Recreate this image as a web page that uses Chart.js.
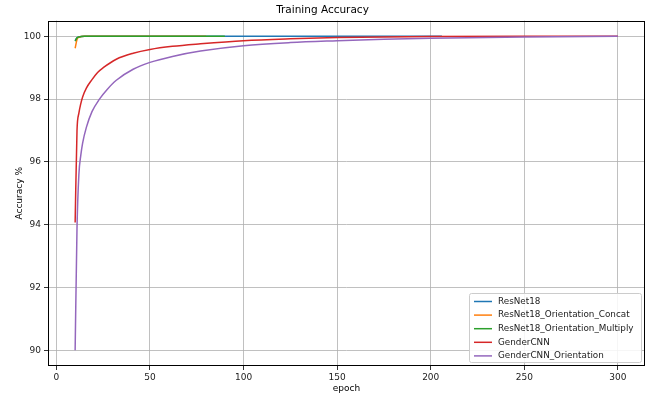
<!DOCTYPE html>
<html>
<head>
<meta charset="utf-8">
<script src="https://cdn.jsdelivr.net/npm/chart.js@4/dist/chart.umd.min.js"></script>
<style>
  html, body { margin: 0; padding: 0; background: #fff; }
  #wrap { width: 647px; height: 396px; }
</style>
</head>
<body>
<div id="wrap"><canvas id="accChart" width="647" height="396"></canvas></div>
<script>
    // Data
    const seriesNames = ['ResNet18', 'ResNet18_Orientation_Concat', 'ResNet18_Orientation_Multiply', 'GenderCNN', 'GenderCNN_Orientation'];
    const seriesColors = ['#1f77b4', '#ff7f0e', '#2ca02c', '#d62728', '#9467bd'];

    const resnetEpochs = [10, 11, 12, 15, 206];
    const resnetAcc = [99.86, 99.95, 99.98, 100, 100];

    const concatEpochs = [10, 11, 12, 15, 80];
    const concatAcc = [99.62, 99.9, 99.97, 100, 100];

    const multiplyEpochs = [10, 11, 12, 15, 90];
    const multiplyAcc = [99.85, 99.95, 99.98, 100, 100];

    const genderEpochs = [10, 11, 12, 13, 14, 16, 19, 22, 25, 32, 41, 50, 62, 77, 100, 125, 150, 175, 200, 250, 300];
    const genderAcc = [94.07, 97.0, 97.55, 97.85, 98.07, 98.35, 98.62, 98.85, 99.0, 99.27, 99.46, 99.58, 99.68, 99.76, 99.86, 99.92, 99.96, 99.98, 99.99, 100, 100];

    const genderOriEpochs = [10, 11, 12, 13, 14, 16, 19, 23, 27, 32, 41, 50, 62, 77, 100, 125, 150, 175, 200, 250, 300];
    const genderOriAcc = [90.0, 93.9, 95.6, 96.2, 96.6, 97.1, 97.6, 98.0, 98.3, 98.6, 98.95, 99.17, 99.36, 99.53, 99.70, 99.80, 99.86, 99.91, 99.94, 99.98, 100];

    const xTicks = [0, 50, 100, 150, 200, 250, 300];
    const yTicks = [90, 92, 94, 96, 98, 100];

    const allEpochs = [resnetEpochs, concatEpochs, multiplyEpochs, genderEpochs, genderOriEpochs];
    const allAcc = [resnetAcc, concatAcc, multiplyAcc, genderAcc, genderOriAcc];

    const FONT = '"DejaVu Sans", sans-serif';

    // later series drawn on top, like matplotlib
    const datasets = seriesNames.map((name, i) => ({
      label: name,
      data: allEpochs[i].map((e, j) => ({ x: e, y: allAcc[i][j] })),
      borderColor: seriesColors[i],
      backgroundColor: seriesColors[i],
      borderWidth: 1.5,
      pointRadius: 0,
      cubicInterpolationMode: 'monotone',
      fill: false,
      order: seriesNames.length - i
    }));

    // Frame around the plot area plus an inside legend
    const framePlugin = {
      id: 'frame',
      afterDraw(chart) {
        const { ctx, chartArea: a } = chart;
        ctx.save();
        ctx.strokeStyle = '#000';
        ctx.lineWidth = 1;
        ctx.strokeRect(Math.round(a.left) + 0.5, Math.round(a.top) + 0.5,
          Math.round(a.right - a.left) - 1, Math.round(a.bottom - a.top) - 1);

        // legend
        const bw = 172, bh = 69;
        const bx = a.right - bw - 4, by = a.bottom - bh - 4;
        ctx.fillStyle = 'rgba(255,255,255,0.85)';
        ctx.strokeStyle = '#cccccc';
        ctx.beginPath();
        ctx.roundRect(bx + 0.5, by + 0.5, bw, bh, 2);
        ctx.fill();
        ctx.stroke();
        ctx.font = '8.8px ' + FONT;
        ctx.textBaseline = 'middle';
        seriesNames.forEach((name, i) => {
          const ly = by + 8.5 + i * 13.6;
          ctx.strokeStyle = seriesColors[i];
          ctx.lineWidth = 1.5;
          ctx.beginPath();
          ctx.moveTo(bx + 5, ly);
          ctx.lineTo(bx + 23, ly);
          ctx.stroke();
          ctx.fillStyle = '#222';
          ctx.fillText(name, bx + 29, ly);
        });
        ctx.restore();
      }
    };

    new Chart(document.getElementById('accChart').getContext('2d'), {
      type: 'line',
      data: { datasets },
      options: {
        responsive: false,
        animation: false,
        devicePixelRatio: 1,
        layout: { padding: { left: 0, right: 2, top: 0, bottom: 0 } },
        plugins: {
          legend: { display: false },
          tooltip: { enabled: false },
          title: {
            display: true,
            text: 'Training Accuracy',
            color: '#000',
            font: { family: FONT, size: 10.5, weight: 'normal' },
            padding: { top: 4, bottom: 4 }
          }
        },
        scales: {
          x: {
            type: 'linear',
            min: -4.5,
            max: 314.5,
            afterBuildTicks: s => { s.ticks = xTicks.map(v => ({ value: v })); },
            afterFit: s => { s.height = 30; },
            grid: { color: '#b0b0b0', lineWidth: 0.8, tickLength: 4, tickColor: '#000' },
            border: { display: false },
            ticks: { color: '#222', font: { family: FONT, size: 9 }, padding: 2, maxRotation: 0 },
            title: { display: true, text: 'epoch', color: '#000', font: { family: FONT, size: 9 }, padding: { top: 0, bottom: 2 } }
          },
          y: {
            type: 'linear',
            min: 89.5,
            max: 100.5,
            afterBuildTicks: s => { s.ticks = yTicks.map(v => ({ value: v })); },
            afterFit: s => { s.width = 48; },
            grid: { color: '#b0b0b0', lineWidth: 0.8, tickLength: 4, tickColor: '#000' },
            border: { display: false },
            ticks: { color: '#222', font: { family: FONT, size: 9 }, padding: 3 },
            title: { display: true, text: 'Accuracy %', color: '#000', font: { family: FONT, size: 9 }, padding: { top: 14, bottom: 0 } }
          }
        }
      },
      plugins: [framePlugin]
    });
</script>
</body>
</html>
